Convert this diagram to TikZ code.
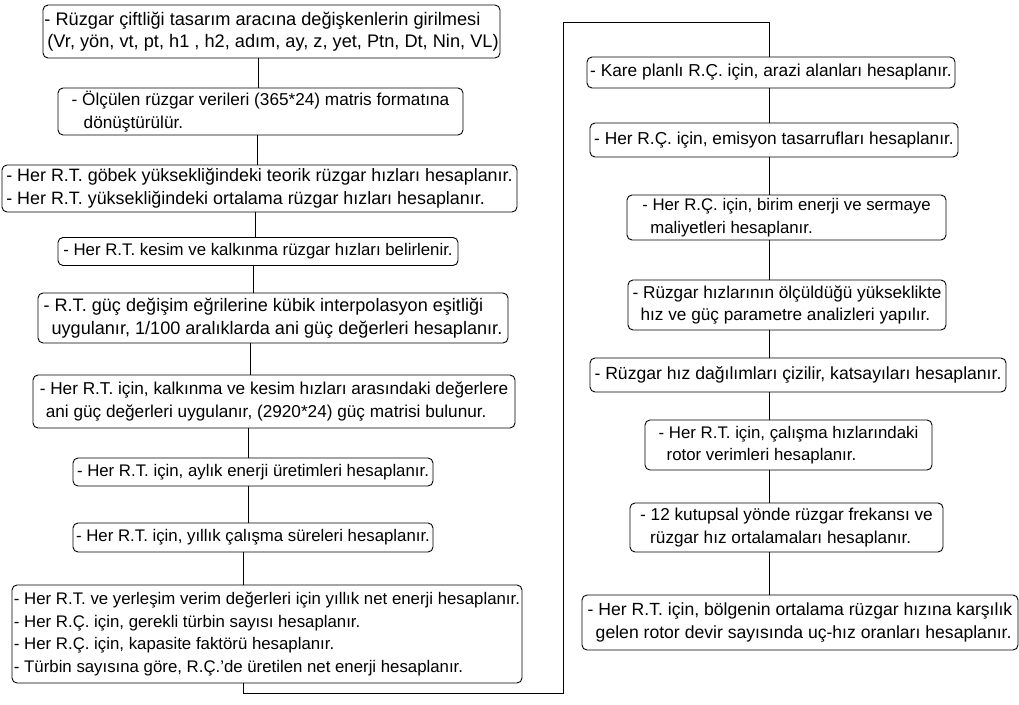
\documentclass[tikz,border=0pt]{standalone}
\usepackage{fontspec}
\setmainfont{Liberation Sans}
\begin{document}
\begin{tikzpicture}[x=1pt,y=-1pt,
  box/.style={draw, line width=0.9pt, rounded corners=5pt, align=left, inner sep=1pt,
    font=\fontsize{16.8}{22.5}\selectfont},
  fsz/.style={font=\fontsize{#1}{22.5}\selectfont},
  link/.style={line width=0.9pt}]
\useasboundingbox (0,0) rectangle (1019,704);
% left column
\node[box, fsz=18.2, minimum width=457, minimum height=53] (b1) at (271.5,31.5)
  {- Rüzgar çiftliği tasarım aracına değişkenlerin girilmesi\\\hspace*{3pt}(Vr, yön, vt, pt, h1 , h2, adım, ay, z, yet, Ptn, Dt, Nin, VL)};
\node[box, fsz=17.2, minimum width=405, minimum height=47] (b2) at (260.5,111.5)
  {- Ölçülen rüzgar verileri (365*24) matris formatına\\\hspace*{12pt}dönüştürülür.};
\node[box, fsz=17.9, minimum width=515, minimum height=47] (b3) at (259.5,188.5)
  {- Her R.T. göbek yüksekliğindeki teorik rüzgar hızları hesaplanır.\\- Her R.T. yüksekliğindeki ortalama rüzgar hızları hesaplanır.};
\node[box, minimum width=400, minimum height=28] (b4) at (258,251.5)
  {- Her R.T. kesim ve kalkınma rüzgar hızları belirlenir.};
\node[box, fsz=18.1, minimum width=470, minimum height=50] (b5) at (273,318)
  {- R.T. güç değişim eğrilerine kübik interpolasyon eşitliği\\\hspace*{8pt}uygulanır, 1/100 aralıklarda ani güç değerleri hesaplanır.};
\node[box, fsz=17.2, minimum width=482, minimum height=53] (b6) at (274,401.5)
  {- Her R.T. için, kalkınma ve kesim hızları arasındaki değerlere\\\hspace*{6pt}ani güç değerleri uygulanır, (2920*24) güç matrisi bulunur.};
\node[box, minimum width=360, minimum height=28] (b7) at (253,472)
  {- Her R.T. için, aylık enerji üretimleri hesaplanır.};
\node[box, minimum width=360, minimum height=29] (b8) at (253,537.5)
  {- Her R.T. için, yıllık çalışma süreleri hesaplanır.};
\node[box, minimum width=510, minimum height=98] (b9) at (267,634)
  {- Her R.T. ve yerleşim verim değerleri için yıllık net enerji hesaplanır.\\- Her R.Ç. için, gerekli türbin sayısı hesaplanır.\\- Her R.Ç. için, kapasite faktörü hesaplanır.\\- Türbin sayısına göre, R.Ç.'de üretilen net enerji hesaplanır.};
% right column
\node[box, fsz=17.3, minimum width=368, minimum height=31] (b10) at (771,72.5)
  {- Kare planlı R.Ç. için, arazi alanları hesaplanır.};
\node[box, fsz=17.3, minimum width=368, minimum height=34] (b11) at (774,140)
  {- Her R.Ç. için, emisyon tasarrufları hesaplanır.};
\node[box, minimum width=319, minimum height=45] (b12) at (786.5,217.5)
  {- Her R.Ç. için, birim enerji ve sermaye\\\hspace*{8pt}maliyetleri hesaplanır.};
\node[box, fsz=17.2, minimum width=318, minimum height=50] (b13) at (787,305)
  {- Rüzgar hızlarının ölçüldüğü yükseklikte\\\hspace*{8pt}hız ve güç parametre analizleri yapılır.};
\node[box, fsz=17.6, minimum width=416, minimum height=34] (b14) at (798,375)
  {- Rüzgar hız dağılımları çizilir, katsayıları hesaplanır.};
\node[box, minimum width=287, minimum height=50] (b15) at (788.5,445)
  {- Her R.T. için, çalışma hızlarındaki\\\hspace*{8pt}rotor verimleri hesaplanır.};
\node[box, fsz=17.2, minimum width=313, minimum height=49] (b16) at (786.5,527.5)
  {- 12 kutupsal yönde rüzgar frekansı ve\\\hspace*{10pt}rüzgar hız ortalamaları hesaplanır.};
\node[box, fsz=17.6, minimum width=436, minimum height=55] (b17) at (800,622.5)
  {- Her R.T. için, bölgenin ortalama rüzgar hızına karşılık\\\hspace*{8pt}gelen rotor devir sayısında uç-hız oranları hesaplanır.};
% connector x positions
\coordinate (x1) at (258,0);
\coordinate (x2) at (257,0);
\coordinate (x3) at (255,0);
\coordinate (x4) at (253,0);
\coordinate (x5) at (250,0);
\coordinate (x6) at (248,0);
\coordinate (x8) at (243,0);
\coordinate (xr) at (769,0);
\coordinate (bl) at (243,693);
\coordinate (br) at (563,693);
\coordinate (tl) at (563,22);
\coordinate (tr) at (769,22);
\draw[link] (b1.south -| x1) -- (b2.north -| x1);
\draw[link] (b2.south -| x2) -- (b3.north -| x2);
\draw[link] (b3.south -| x3) -- (b4.north -| x3);
\draw[link] (b4.south -| x4) -- (b5.north -| x4);
\draw[link] (b5.south -| x5) -- (b6.north -| x5);
\draw[link] (b6.south -| x6) -- (b7.north -| x6);
\draw[link] (b7.south -| x6) -- (b8.north -| x6);
\draw[link] (b8.south -| x8) -- (b9.north -| x8);
\draw[link] (b9.south -| x8) -- (bl) -- (br) -- (tl) -- (tr) -- (b10.north -| xr);
\draw[link] (b10.south -| xr) -- (b11.north -| xr);
\draw[link] (b11.south -| xr) -- (b12.north -| xr);
\draw[link] (b12.south -| xr) -- (b13.north -| xr);
\draw[link] (b13.south -| xr) -- (b14.north -| xr);
\draw[link] (b14.south -| xr) -- (b15.north -| xr);
\draw[link] (b15.south -| xr) -- (b16.north -| xr);
\draw[link] (b16.south -| xr) -- (b17.north -| xr);
\end{tikzpicture}
\end{document}
